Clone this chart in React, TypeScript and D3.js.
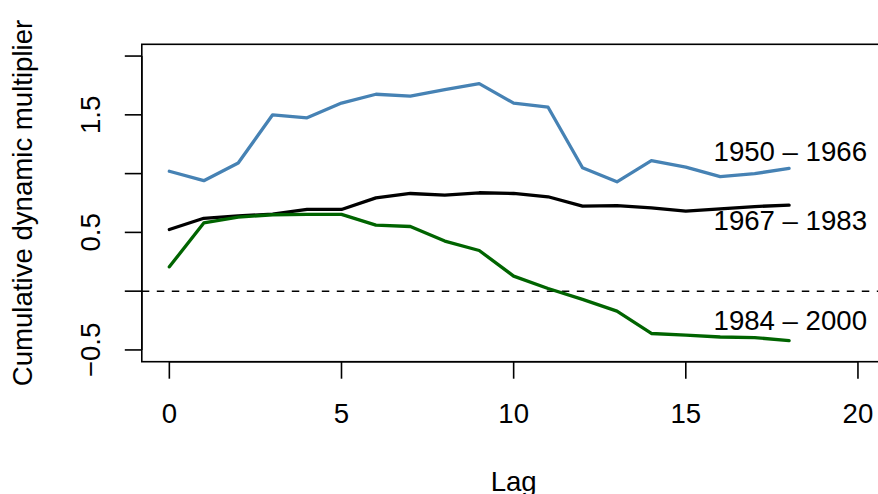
import React from "react";
import * as d3 from "d3";

const lags = [0, 1, 2, 3, 4, 5, 6, 7, 8, 9, 10, 11, 12, 13, 14, 15, 16, 17, 18];
const s1950 = [1.02, 0.94, 1.09, 1.5, 1.475, 1.6, 1.675, 1.66, 1.715, 1.765, 1.6, 1.565, 1.05, 0.93, 1.11, 1.055, 0.975, 1.0, 1.044];
const s1967 = [0.525, 0.62, 0.64, 0.655, 0.695, 0.695, 0.794, 0.831, 0.817, 0.837, 0.831, 0.803, 0.723, 0.728, 0.708, 0.681, 0.7, 0.72, 0.732];
const s1984 = [0.207, 0.58, 0.63, 0.65, 0.653, 0.653, 0.562, 0.55, 0.426, 0.346, 0.128, 0.023, -0.07, -0.17, -0.36, -0.374, -0.39, -0.395, -0.42];
const seriesNames = ["1950 – 1966", "1967 – 1983", "1984 – 2000"];
const seriesColors = ["#4682B4", "#000000", "#006400"];
const labelY = [1.11, 0.52, -0.33];
const xTicks = [0, 5, 10, 15, 20];
const yTicks = [-0.5, 0, 0.5, 1, 1.5, 2];
const yTickLabels = ["−0.5", "", "0.5", "", "1.5", ""];

const FONT = "'Liberation Sans', Arial, Helvetica, sans-serif";
const FS = 27.6;

export default function App() {
  const left = 141.8, right = 885.5, top = 44.3, bottom = 361.7;
  const x = d3.scaleLinear().domain([-0.8, 20.8]).range([left, right]);
  const y = d3.scaleLinear().domain([-0.6, 2.1]).range([bottom, top]);
  const line = d3
    .line<number>()
    .x((_, i) => x(lags[i]))
    .y((v) => y(v));
  const all = [s1950, s1967, s1984];
  const tickLen = 17;
  return (
    <svg
      width={878}
      height={494}
      style={{ position: "absolute", left: 0, top: 0, background: "#fff" }}
      fontFamily={FONT}
    >
      <rect x={0} y={0} width={878} height={494} fill="#fff" />
      <line x1={left} x2={right} y1={y(0)} y2={y(0)} stroke="#000" strokeWidth={1.5} strokeDasharray="7.5,7.5" />
      {all.map((s, k) => (
        <path key={k} d={line(s) || ""} fill="none" stroke={seriesColors[k]} strokeWidth={3.3} strokeLinejoin="round" strokeLinecap="round" />
      ))}
      {seriesNames.map((n, k) => (
        <text key={n} x={867} y={y(labelY[k])} fontSize={FS} textAnchor="end" fill="#000">
          {n}
        </text>
      ))}
      <rect x={left} y={top} width={right - left} height={bottom - top} fill="none" stroke="#000" strokeWidth={1.6} />
      {/* x axis */}
      <line x1={x(xTicks[0])} x2={x(xTicks[xTicks.length - 1])} y1={bottom} y2={bottom} stroke="#000" strokeWidth={1.6} />
      {xTicks.map((t) => (
        <g key={t}>
          <line x1={x(t)} x2={x(t)} y1={bottom} y2={bottom + tickLen} stroke="#000" strokeWidth={1.6} />
          <text x={x(t)} y={423} fontSize={FS} textAnchor="middle">
            {t}
          </text>
        </g>
      ))}
      {/* y axis */}
      <line x1={left} x2={left} y1={y(yTicks[0])} y2={y(yTicks[yTicks.length - 1])} stroke="#000" strokeWidth={1.6} />
      {yTicks.map((t, i) => (
        <g key={t}>
          <line x1={left - tickLen} x2={left} y1={y(t)} y2={y(t)} stroke="#000" strokeWidth={1.6} />
          {yTickLabels[i] && (
            <text transform={`translate(100,${y(t)}) rotate(-90)`} fontSize={FS} textAnchor="middle">
              {yTickLabels[i]}
            </text>
          )}
        </g>
      ))}
      <text x={x(10)} y={490.5} fontSize={FS} textAnchor="middle">
        Lag
      </text>
      <text transform={`translate(31.7,${(top + bottom) / 2}) rotate(-90)`} fontSize={FS} textAnchor="middle">
        Cumulative dynamic multiplier
      </text>
    </svg>
  );
}
